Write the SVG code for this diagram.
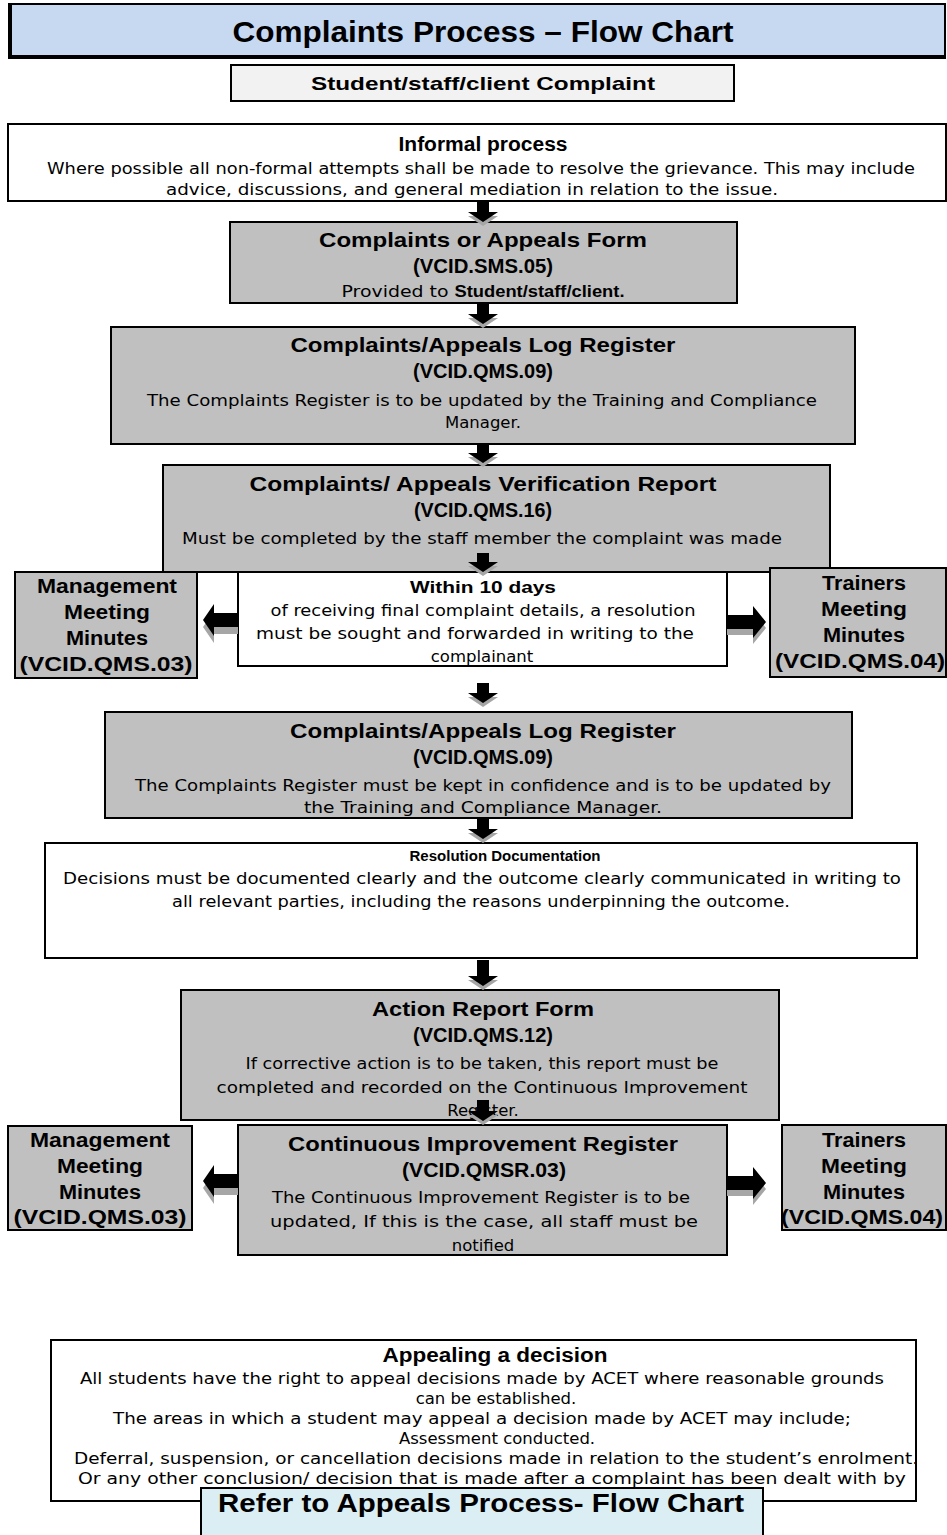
<svg xmlns="http://www.w3.org/2000/svg" width="947" height="1535" viewBox="0 0 947 1535">
<style>
.box{stroke:#000;stroke-width:2}
.g{fill:#c0c0c0}
.w{fill:#fff}
.t{font-family:"Liberation Sans",Arial,sans-serif;fill:#000;text-anchor:middle}
.b{font-weight:bold}
.h{font-size:21px}
.r{font-family:"DejaVu Sans","Liberation Sans",sans-serif;font-size:16.5px}
.s{font-size:20px}
.arr{fill:#000}
.sh{fill:#a6a6a6}
</style>
<rect width="947" height="1535" fill="#fff"/>
<g id="title">
<rect x="10" y="4" width="935" height="52" fill="#c6d9f1" stroke="#000" stroke-width="2"/>
<rect x="8" y="3" width="4" height="56" fill="#000"/>
<rect x="8" y="55" width="938" height="4" fill="#000"/>
<text class="t b" x="483" y="42" font-size="30" textLength="501" lengthAdjust="spacingAndGlyphs">Complaints Process – Flow Chart</text>
</g>
<g id="complaint">
<rect class="box" x="231" y="65" width="503" height="36" fill="#f2f2f2"/>
<text class="t b" x="483" y="90" font-size="19" textLength="344" lengthAdjust="spacingAndGlyphs">Student/staff/client Complaint</text>
</g>
<g id="informal">
<rect class="box w" x="8" y="124" width="938" height="77"/>
<text class="t b" x="483" y="151" font-size="20" textLength="169" lengthAdjust="spacingAndGlyphs">Informal process</text>
<text class="t r" x="481" y="174" textLength="868" lengthAdjust="spacingAndGlyphs">Where possible all non-formal attempts shall be made to resolve the grievance. This may include</text>
<text class="t r" x="472" y="195" textLength="612" lengthAdjust="spacingAndGlyphs">advice, discussions, and general mediation in relation to the issue.</text>
</g>
<g id="form">
<rect class="box g" x="230" y="222" width="507" height="81"/>
<text class="t b h" x="483" y="247" textLength="328" lengthAdjust="spacingAndGlyphs">Complaints or Appeals Form</text>
<text class="t b h" x="483" y="273" textLength="140" lengthAdjust="spacingAndGlyphs">(VCID.SMS.05)</text>
<text class="t r" x="483" y="297" font-size="15" textLength="283" lengthAdjust="spacingAndGlyphs">Provided to <tspan font-family="Liberation Sans" font-size="16" font-weight="bold">Student/staff/client.</tspan></text>
</g>
<g id="log1">
<rect class="box g" x="111" y="327" width="744" height="117"/>
<text class="t b h" x="483" y="352" textLength="385" lengthAdjust="spacingAndGlyphs">Complaints/Appeals Log Register</text>
<text class="t b h" x="483" y="378" textLength="140" lengthAdjust="spacingAndGlyphs">(VCID.QMS.09)</text>
<text class="t r" x="482" y="406" textLength="670" lengthAdjust="spacingAndGlyphs">The Complaints Register is to be updated by the Training and Compliance</text>
<text class="t r" x="483" y="428">Manager.</text>
</g>
<g id="verify">
<rect class="box g" x="163" y="465" width="667" height="107"/>
<text class="t b h" x="483" y="491" textLength="467" lengthAdjust="spacingAndGlyphs">Complaints/ Appeals Verification Report</text>
<text class="t b h" x="483" y="517" textLength="138" lengthAdjust="spacingAndGlyphs">(VCID.QMS.16)</text>
<text class="t r" x="482" y="544" textLength="600" lengthAdjust="spacingAndGlyphs">Must be completed by the staff member the complaint was made</text>
</g>
<g id="within">
<rect class="box w" x="238" y="572" width="489" height="94"/>
<text class="t b" x="483" y="593" font-size="17" textLength="146" lengthAdjust="spacingAndGlyphs">Within 10 days</text>
<text class="t r" x="483" y="616" textLength="425" lengthAdjust="spacingAndGlyphs">of receiving final complaint details, a resolution</text>
<text class="t r" x="475" y="639" textLength="438" lengthAdjust="spacingAndGlyphs">must be sought and forwarded in writing to the</text>
<text class="t r" x="482" y="662">complainant</text>
</g>
<g id="mgmt1">
<rect class="box g" x="15" y="572" width="182" height="106"/>
<text class="t b s" x="107" y="593" textLength="140" lengthAdjust="spacingAndGlyphs">Management</text>
<text class="t b s" x="107" y="619" textLength="86" lengthAdjust="spacingAndGlyphs">Meeting</text>
<text class="t b s" x="107" y="645" textLength="82" lengthAdjust="spacingAndGlyphs">Minutes</text>
<text class="t b s" x="106" y="671" textLength="173" lengthAdjust="spacingAndGlyphs">(VCID.QMS.03)</text>
</g>
<g id="trainers1">
<rect class="box g" x="770" y="568" width="176" height="109"/>
<text class="t b s" x="864" y="590" textLength="84" lengthAdjust="spacingAndGlyphs">Trainers</text>
<text class="t b s" x="864" y="616" textLength="86" lengthAdjust="spacingAndGlyphs">Meeting</text>
<text class="t b s" x="864" y="642" textLength="82" lengthAdjust="spacingAndGlyphs">Minutes</text>
<text class="t b s" x="860" y="668" textLength="170" lengthAdjust="spacingAndGlyphs">(VCID.QMS.04)</text>
</g>
<g id="log2">
<rect class="box g" x="105" y="712" width="747" height="106"/>
<text class="t b h" x="483" y="738" textLength="386" lengthAdjust="spacingAndGlyphs">Complaints/Appeals Log Register</text>
<text class="t b h" x="483" y="764" textLength="140" lengthAdjust="spacingAndGlyphs">(VCID.QMS.09)</text>
<text class="t r" x="483" y="791" textLength="696" lengthAdjust="spacingAndGlyphs">The Complaints Register must be kept in confidence and is to be updated by</text>
<text class="t r" x="483" y="813" textLength="358" lengthAdjust="spacingAndGlyphs">the Training and Compliance Manager.</text>
</g>
<g id="resolution">
<rect class="box w" x="45" y="843" width="872" height="115"/>
<text class="t b" x="505" y="861" font-size="14" textLength="191" lengthAdjust="spacingAndGlyphs">Resolution Documentation</text>
<text class="t r" x="482" y="884" textLength="838" lengthAdjust="spacingAndGlyphs">Decisions must be documented clearly and the outcome clearly communicated in writing to</text>
<text class="t r" x="481" y="907" textLength="618" lengthAdjust="spacingAndGlyphs">all relevant parties, including the reasons underpinning the outcome.</text>
</g>
<g id="action">
<rect class="box g" x="181" y="990" width="598" height="130"/>
<text class="t b h" x="483" y="1016" textLength="222" lengthAdjust="spacingAndGlyphs">Action Report Form</text>
<text class="t b h" x="483" y="1042" textLength="140" lengthAdjust="spacingAndGlyphs">(VCID.QMS.12)</text>
<text class="t r" x="482" y="1069" textLength="473" lengthAdjust="spacingAndGlyphs">If corrective action is to be taken, this report must be</text>
<text class="t r" x="482" y="1093" textLength="531" lengthAdjust="spacingAndGlyphs">completed and recorded on the Continuous Improvement</text>
<text class="t r" x="483" y="1116">Register.</text>
</g>
<g id="ci">
<rect class="box g" x="238" y="1125" width="489" height="130"/>
<text class="t b h" x="483" y="1151" textLength="390" lengthAdjust="spacingAndGlyphs">Continuous Improvement Register</text>
<text class="t b h" x="484" y="1177" textLength="164" lengthAdjust="spacingAndGlyphs">(VCID.QMSR.03)</text>
<text class="t r" x="481" y="1203" textLength="418" lengthAdjust="spacingAndGlyphs">The Continuous Improvement Register is to be</text>
<text class="t r" x="484" y="1227" textLength="428" lengthAdjust="spacingAndGlyphs">updated, If this is the case, all staff must be</text>
<text class="t r" x="483" y="1251">notified</text>
</g>
<g id="mgmt2">
<rect class="box g" x="8" y="1126" width="184" height="104"/>
<text class="t b s" x="100" y="1147" textLength="140" lengthAdjust="spacingAndGlyphs">Management</text>
<text class="t b s" x="100" y="1173" textLength="86" lengthAdjust="spacingAndGlyphs">Meeting</text>
<text class="t b s" x="100" y="1199" textLength="82" lengthAdjust="spacingAndGlyphs">Minutes</text>
<text class="t b s" x="100" y="1224" textLength="173" lengthAdjust="spacingAndGlyphs">(VCID.QMS.03)</text>
</g>
<g id="trainers2">
<rect class="box g" x="782" y="1125" width="164" height="105"/>
<text class="t b s" x="864" y="1147" textLength="84" lengthAdjust="spacingAndGlyphs">Trainers</text>
<text class="t b s" x="864" y="1173" textLength="86" lengthAdjust="spacingAndGlyphs">Meeting</text>
<text class="t b s" x="864" y="1199" textLength="82" lengthAdjust="spacingAndGlyphs">Minutes</text>
<text class="t b s" x="862" y="1224" textLength="162" lengthAdjust="spacingAndGlyphs">(VCID.QMS.04)</text>
</g>
<g id="appeal">
<rect class="box w" x="51" y="1340" width="865" height="161"/>
<text class="t b" x="495" y="1362" font-size="20" textLength="225" lengthAdjust="spacingAndGlyphs">Appealing a decision</text>
<text class="t r" x="482" y="1384" textLength="804" lengthAdjust="spacingAndGlyphs">All students have the right to appeal decisions made by ACET where reasonable grounds</text>
<text class="t r" x="496" y="1404">can be established.</text>
<text class="t r" x="482" y="1424" textLength="738" lengthAdjust="spacingAndGlyphs">The areas in which a student may appeal a decision made by ACET may include;</text>
<text class="t r" x="497" y="1444">Assessment conducted.</text>
<text class="t r" x="496" y="1464" textLength="844" lengthAdjust="spacingAndGlyphs">Deferral, suspension, or cancellation decisions made in relation to the student’s enrolment.</text>
<text class="t r" x="492" y="1484" textLength="828" lengthAdjust="spacingAndGlyphs">Or any other conclusion/ decision that is made after a complaint has been dealt with by</text>
</g>
<g id="refer">
<rect class="box" x="201" y="1488" width="562" height="60" fill="#dbeef4"/>
<text class="t b" x="481" y="1512" font-size="25" textLength="526" lengthAdjust="spacingAndGlyphs">Refer to Appeals Process- Flow Chart</text>
</g>
<g id="connectors">
<path class="sh" d="M477,205h12v11h9l-15,10l-15,-10h9z"/>
<path class="arr" d="M477,201h12v11h9l-15,10l-15,-10h9z"/>
<path class="sh" d="M477,307h12v11h9l-15,10l-15,-10h9z"/>
<path class="arr" d="M477,303h12v11h9l-15,10l-15,-10h9z"/>
<path class="sh" d="M477,448h12v9h9l-15,10l-15,-10h9z"/>
<path class="arr" d="M477,444h12v9h9l-15,10l-15,-10h9z"/>
<path class="sh" d="M477,557h12v9h9l-15,10l-15,-10h9z"/>
<path class="arr" d="M477,553h12v9h9l-15,10l-15,-10h9z"/>
<path class="sh" d="M477,687h12v10h9l-15,10l-15,-10h9z"/>
<path class="arr" d="M477,683h12v10h9l-15,10l-15,-10h9z"/>
<path class="sh" d="M477,822h12v11h9l-15,10l-15,-10h9z"/>
<path class="arr" d="M477,818h12v11h9l-15,10l-15,-10h9z"/>
<path class="sh" d="M477,964h12v16h9l-15,10l-15,-10h9z"/>
<path class="arr" d="M477,960h12v16h9l-15,10l-15,-10h9z"/>
<path class="sh" d="M477,1104h12v11h9l-15,10l-15,-10h9z"/>
<path class="arr" d="M477,1100h12v11h9l-15,10l-15,-10h9z"/>
<path class="sh" d="M238,620v14h-24v9l-11,-16l11,-16v9z"/>
<path class="arr" d="M238,613v14h-24v9l-11,-16l11,-16v9z"/>
<path class="sh" d="M727,621v14h26v9l13,-16l-13,-16v9z"/>
<path class="arr" d="M727,615v14h26v9l13,-16l-13,-16v9z"/>
<path class="sh" d="M238,1181v14h-24v9l-11,-16l11,-16v9z"/>
<path class="arr" d="M238,1174v14h-24v9l-11,-16l11,-16v9z"/>
<path class="sh" d="M727,1182v14h26v9l13,-16l-13,-16v9z"/>
<path class="arr" d="M727,1176v14h26v9l13,-16l-13,-16v9z"/>
</g>
</svg>
